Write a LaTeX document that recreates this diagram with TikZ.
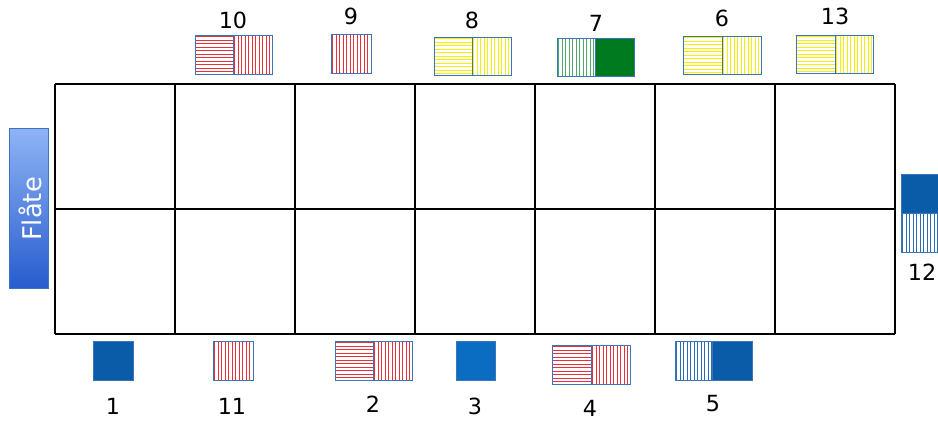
\documentclass[tikz,border=0pt]{standalone}
\usepackage{fontspec}
\setmainfont{DejaVu Sans}
\usetikzlibrary{positioning}

\definecolor{tileblue}{HTML}{0A5CA8}
\definecolor{tileblueB}{HTML}{0B6DC1}
\definecolor{edgeblue}{HTML}{3C74B8}
\definecolor{tilegreen}{HTML}{007A1E}
\definecolor{stripegreen}{HTML}{4FA868}
\definecolor{stripered}{HTML}{E8303A}
\definecolor{stripeyellow}{HTML}{F8F000}
\definecolor{stripeblue}{HTML}{2A6CB8}

\tikzset{
  tile/.style={draw=edgeblue, line width=0.7pt},
  stripe/.style={line width=0.75pt},
  number/.style={font=\fontsize{19}{23}\selectfont, text=black, inner sep=1pt}
}

% striped half tiles: {x1}{y1}{x2}{y2}{colour}
\newcommand{\vstripes}[5]{%
  \begin{scope}
    \clip (#1,#2) rectangle (#3,#4);
    \foreach \sx in {0,3.5,...,44}
      \draw[stripe, #5] ({#1+1.5+\sx},#2) -- ({#1+1.5+\sx},#4);
  \end{scope}
  \draw[tile] (#1,#2) rectangle (#3,#4);}
\newcommand{\hstripes}[5]{%
  \begin{scope}
    \clip (#1,#2) rectangle (#3,#4);
    \foreach \sy in {0,3.5,...,44}
      \draw[stripe, #5] (#1,{#2+1.5+\sy}) -- (#3,{#2+1.5+\sy});
  \end{scope}
  \draw[tile] (#1,#2) rectangle (#3,#4);}

\begin{document}
\begin{tikzpicture}[x=0.03cm, y=-0.03cm]
  \useasboundingbox (0,0) rectangle (938,421);

  % Grid
  \foreach \gx in {55,175,...,895}
    \draw[line width=1pt] (\gx,84) -- (\gx,334);
  \foreach \gy in {84,209,334}
    \draw[line width=1pt] (55,\gy) -- (895,\gy);

  % Flaate
  \shade[top color={rgb,255:red,143;green,180;blue,245}, bottom color={rgb,255:red,40;green,92;blue,205}, draw=edgeblue, line width=0.4pt]
    (9,128) rectangle (48,288);
  \node[rotate=90, text=white, font=\fontsize{22}{26}\selectfont] (flaate) at (30,209) {Flåte};

  % Top row
  \hstripes{195}{35}{233}{74}{stripered}
  \vstripes{233}{35}{272}{74}{stripered}
  \node[number] (n10) at (233,20) {10};

  \vstripes{331}{34}{371}{73}{stripered}
  \node[number] (n9) at (351,16) {9};

  \hstripes{434}{37}{472}{75}{stripeyellow}
  \vstripes{472}{37}{511}{75}{stripeyellow}
  \node[number] (n8) at (472,20) {8};

  \vstripes{557}{38}{595}{76}{stripegreen}
  \draw[tile, fill=tilegreen] (595,38) rectangle (634,76);
  \node[number] (n7) at (596,23) {7};

  \hstripes{683}{36}{722}{74}{stripeyellow}
  \vstripes{722}{36}{761}{74}{stripeyellow}
  \node[number] (n6) at (722,18) {6};

  \hstripes{796}{35}{835}{73}{stripeyellow}
  \vstripes{835}{35}{873}{73}{stripeyellow}
  \node[number] (n13) at (835,16) {13};

  % Right side
  \draw[tile, fill=tileblue] (901,174) rectangle (945,213);
  \vstripes{901}{213}{945}{252}{stripeblue}
  \node[number] (n12) at (922,272) {12};

  % Bottom row
  \draw[tile, fill=tileblue] (93,341) rectangle (133,380);
  \node[number] (n1) at (113,406) {1};

  \vstripes{213}{341}{253}{380}{stripered}
  \node[number] (n11) at (232,406) {11};

  \hstripes{335}{341}{373}{380}{stripered}
  \vstripes{373}{341}{412}{380}{stripered}
  \node[number] (n2) at (373,404) {2};

  \draw[tile, fill=tileblueB] (456,341) rectangle (495,380);
  \node[number] (n3) at (475,406) {3};

  \hstripes{552}{345}{591}{384}{stripered}
  \vstripes{591}{345}{630}{384}{stripered}
  \node[number] (n4) at (590,408) {4};

  \vstripes{675}{341}{712}{380}{stripeblue}
  \draw[tile, fill=tileblue] (712,341) rectangle (752,380);
  \node[number] (n5) at (713,404) {5};
\end{tikzpicture}
\end{document}
